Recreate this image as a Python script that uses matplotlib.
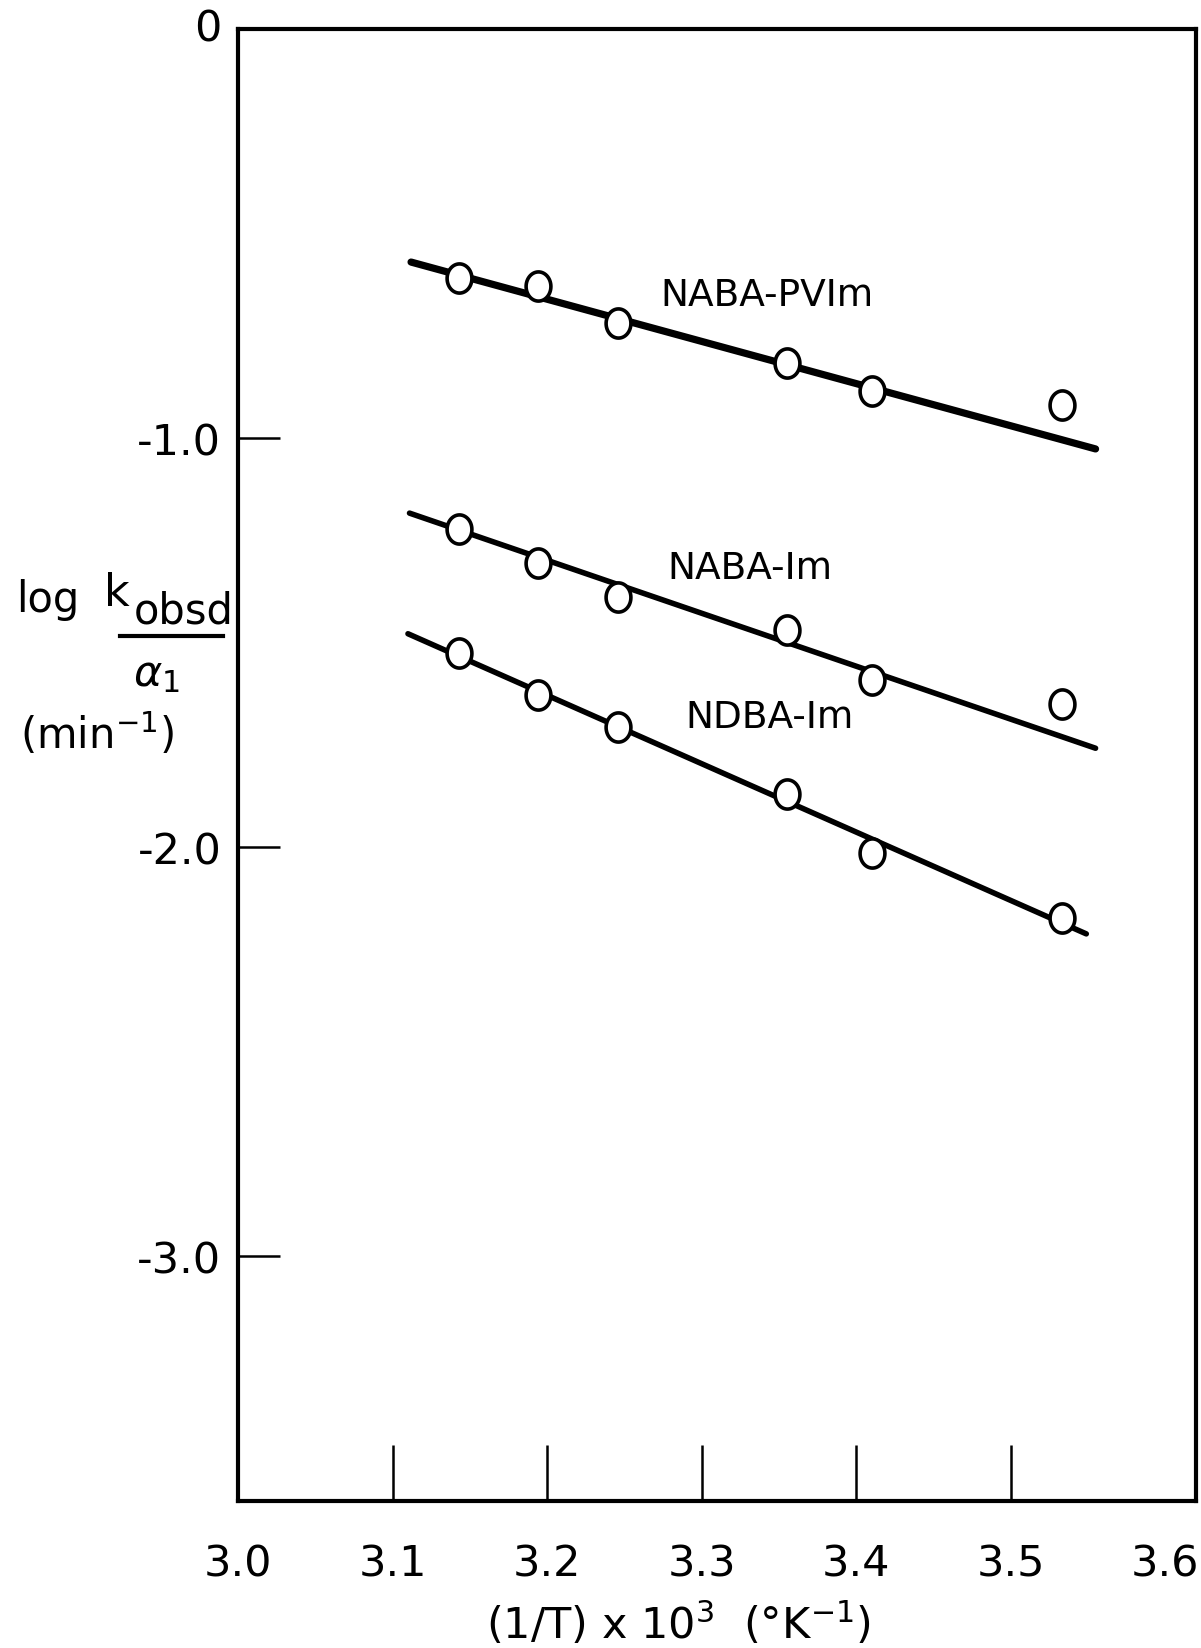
import matplotlib
matplotlib.use('Agg')
import matplotlib.pyplot as plt
import numpy as np
from matplotlib.lines import Line2D
from matplotlib.path import Path

W, H = 1201, 1649

# (1/T) x 10^3 values of the measured points
inv_t = [3.143, 3.194, 3.246, 3.355, 3.410, 3.533]

# log k_obsd / a1
naba_pvim = [-0.608, -0.629, -0.719, -0.816, -0.886, -0.919]
naba_im = [-1.222, -1.307, -1.389, -1.471, -1.592, -1.651]
ndba_im = [-1.525, -1.630, -1.707, -1.872, -2.015, -2.175]

# drawn straight lines (start / end)
pvim_fit_x = [3.112, 3.555]
pvim_fit_y = [-0.570, -1.027]
im_fit_x = [3.111, 3.555]
im_fit_y = [-1.184, -1.759]
ndba_fit_x = [3.110, 3.549]
ndba_fit_y = [-1.479, -2.213]

x_ticks = [3.0, 3.1, 3.2, 3.3, 3.4, 3.5, 3.6]
x_labels = ['3.0', '3.1', '3.2', '3.3', '3.4', '3.5', '3.6']
y_ticks = [0, -1.0, -2.0, -3.0]
y_labels = ['0', '-1.0', '-2.0', '-3.0']


def fx(px):
    return px / W


def fy(py):
    return 1 - py / H


# slightly tall open circle, like the hand drawn ones
t = np.linspace(0, 2 * np.pi, 60)
ellipse = Path(np.column_stack([0.85 * np.cos(t), np.sin(t)]), closed=True)

plt.rcParams['font.family'] = ['DejaVu Sans']

fig = plt.figure(figsize=(W / 100, H / 100), dpi=100)
ax = fig.add_axes([fx(238), fy(1502), fx(1196) - fx(238), fy(30) - fy(1502)])

ax.plot(pvim_fit_x, pvim_fit_y, color='black', lw=5.2, solid_capstyle='round', zorder=2)
ax.plot(im_fit_x, im_fit_y, color='black', lw=4, solid_capstyle='round', zorder=2)
ax.plot(ndba_fit_x, ndba_fit_y, color='black', lw=4, solid_capstyle='round', zorder=2)

for ys in [naba_pvim, naba_im, ndba_im]:
    ax.plot(inv_t, ys, linestyle='none', marker=ellipse, ms=21, mfc='white',
            mec='black', mew=2.6, zorder=3)

ax.text(3.342, -0.650, 'NABA-PVIm', fontsize=27, ha='center', va='center')
ax.text(3.331, -1.317, 'NABA-Im', fontsize=27, ha='center', va='center')
ax.text(3.344, -1.682, 'NDBA-Im', fontsize=27, ha='center', va='center')

ax.set_xlim(3.0, 3.62)
ax.set_ylim(-3.6, 0)
ax.set_xticks(x_ticks)
ax.set_xticklabels(x_labels)
ax.set_yticks(y_ticks)
ax.set_yticklabels(y_labels)
ax.tick_params(axis='x', direction='in', length=40, width=1.8, labelsize=31, pad=30)
ax.tick_params(axis='y', direction='in', length=30, width=1.8, labelsize=31, pad=12)

# no tick marks at the box corners / edges
for tk in [ax.xaxis.get_major_ticks()[0], ax.xaxis.get_major_ticks()[-1],
           ax.yaxis.get_major_ticks()[0]]:
    tk.tick1line.set_visible(False)
ax.yaxis.get_major_ticks()[0].label1.set_verticalalignment('center')

for s in ax.spines.values():
    s.set_linewidth(3)

# y label built by hand
fig.text(fx(16), fy(600), 'log', fontsize=30, ha='left', va='center')
fig.text(fx(104), fy(594), 'k', fontsize=32, ha='left', va='center')
fig.text(fx(134), fy(612), 'obsd', fontsize=30, ha='left', va='center')
fig.lines.append(Line2D([fx(120), fx(223)], [fy(637), fy(637)], color='black', lw=3,
                        transform=fig.transFigure))
fig.text(fx(156), fy(674), r'$\alpha_1$', fontsize=31, ha='center', va='center')
fig.text(fx(97), fy(735), r'(min$^{-1}$)', fontsize=30, ha='center', va='center')

fig.text(fx(678), fy(1624), r'(1/T) x 10$^3$  ($\degree$K$^{-1}$)', fontsize=31,
         ha='center', va='center')

fig.savefig('out.png', dpi=100)
